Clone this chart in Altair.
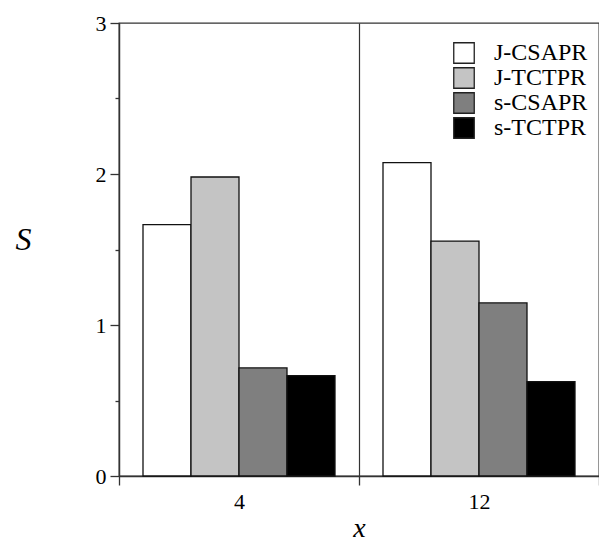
import altair as alt
import pandas as pd

groups = ["4", "12"]
series = ["J-CSAPR", "J-TCTPR", "s-CSAPR", "s-TCTPR"]
j_csapr = [1.665, 2.075]
j_tctpr = [1.98, 1.556]
s_csapr = [0.716, 1.146]
s_tctpr = [0.665, 0.625]
colors = ["#ffffff", "#c4c4c4", "#7f7f7f", "#000000"]

rows = []
for name, vals in zip(series, [j_csapr, j_tctpr, s_csapr, s_tctpr]):
    for g, v in zip(groups, vals):
        rows.append({"x": g, "series": name, "S": v})
df = pd.DataFrame(rows)

FONT = "Liberation Serif"

chart = alt.Chart(df).mark_bar(stroke="#111111", strokeWidth=1.3).encode(
    x=alt.X(
        "x:N",
        sort=groups,
        scale=alt.Scale(paddingInner=0, paddingOuter=0),
        axis=alt.Axis(
            title="x",
            titleFont=FONT,
            titleFontStyle="italic",
            titleFontWeight="normal",
            titleFontSize=28,
            titleColor="#000000",
            titleY=52,
            titleBaseline="middle",
            labelAngle=0,
            labelFont=FONT,
            labelFontSize=22,
            labelColor="#000000",
            labelPadding=6,
            tickBand="extent",
            tickSize=9,
            tickColor="#333333",
            tickWidth=1.3,
            domainColor="#333333",
            domainWidth=1.3,
            grid=True,
            gridColor="#333333",
            gridWidth=1.2,
        ),
    ),
    xOffset=alt.XOffset("series:N", sort=series, scale=alt.Scale(paddingInner=0, paddingOuter=0.5)),
    y=alt.Y(
        "S:Q",
        scale=alt.Scale(domain=[0, 3], nice=False),
        axis=alt.Axis(
            title="S",
            titleFont=FONT,
            titleFontStyle="italic",
            titleFontWeight="normal",
            titleFontSize=32,
            titleColor="#000000",
            titleAngle=0,
            titleX=-96,
            titleY=216,
            titleAlign="center",
            titleBaseline="middle",
            values=[0, 0.5, 1, 1.5, 2, 2.5, 3],
            labelExpr="datum.value % 1 === 0 ? format(datum.value, 'd') : ''",
            labelFont=FONT,
            labelFontSize=22,
            labelColor="#000000",
            labelPadding=4,
            tickSize={"condition": {"test": "datum.value % 1 === 0", "value": 9}, "value": 4},
            tickColor="#333333",
            tickWidth=1.3,
            domainColor="#333333",
            domainWidth=1.3,
            grid=False,
        ),
    ),
    fill=alt.Fill(
        "series:N",
        sort=series,
        scale=alt.Scale(domain=series, range=colors),
        legend=alt.Legend(
            title=None,
            orient="none",
            legendX=333,
            legendY=18,
            symbolType="square",
            symbolSize=420,
            symbolStrokeColor="#222222",
            symbolStrokeWidth=1.3,
            symbolOpacity=1,
            labelFont=FONT,
            labelFontSize=24,
            labelColor="#000000",
            labelOffset=18,
            rowPadding=-4,
            padding=0,
        ),
    ),
).properties(
    width=480,
    height=453,
    padding={"left": 111, "top": 15, "right": 0, "bottom": 68},
    autosize=alt.AutoSizeParams(type="none"),
).configure_view(
    stroke="#333333",
    strokeWidth=1.3,
)

chart.save("out.html", embed_options={"renderer": "svg", "actions": False})
